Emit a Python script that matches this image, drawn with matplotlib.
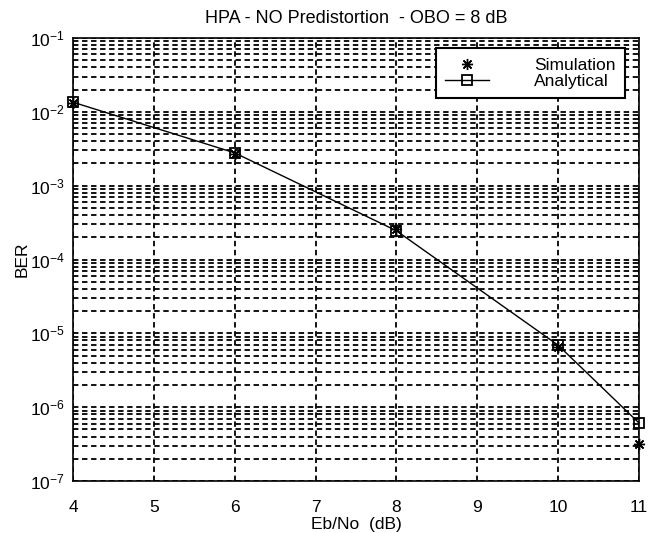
import matplotlib
matplotlib.use("Agg")
import matplotlib.pyplot as plt
from matplotlib.ticker import LogLocator, FixedLocator, NullFormatter

plt.rcParams['font.family'] = ['Liberation Sans', 'DejaVu Sans']
plt.rcParams['mathtext.fontset'] = 'custom'
plt.rcParams['mathtext.rm'] = 'Liberation Sans'
plt.rcParams['mathtext.it'] = 'Liberation Sans'

# Eb/No points (dB) and bit error rates
ebno_sim = [4, 6, 8, 10, 11]
ber_sim = [1.3e-2, 2.7e-3, 2.6e-4, 6.5e-6, 3.2e-7]

ebno_ana = [4, 6, 8, 10, 11]
ber_ana = [1.35e-2, 2.78e-3, 2.45e-4, 6.9e-6, 6.1e-7]

x_ticks = [4, 5, 6, 7, 8, 9, 10, 11]
y_decades = [1e-7, 1e-6, 1e-5, 1e-4, 1e-3, 1e-2, 1e-1]
y_tick_labels = [r'$10^{-7}$', r'$10^{-6}$', r'$10^{-5}$', r'$10^{-4}$',
                 r'$10^{-3}$', r'$10^{-2}$', r'$10^{-1}$']

fig = plt.figure(figsize=(6.51, 5.33), dpi=100)
ax = fig.add_axes([73 / 651, 1 - 481 / 533, 566 / 651, 443 / 533])

ax.set_yscale('log')
ax.set_xlim(4, 11)
ax.set_ylim(1e-7, 1e-1)

ax.xaxis.set_major_locator(FixedLocator(x_ticks))
ax.set_xticklabels([str(t) for t in x_ticks])
ax.yaxis.set_major_locator(FixedLocator(y_decades))
ax.set_yticklabels(y_tick_labels)
ax.yaxis.set_minor_locator(LogLocator(base=10, subs=range(2, 10), numticks=20))
ax.yaxis.set_minor_formatter(NullFormatter())

grid_kw = dict(color='black', linewidth=1.3, linestyle=(0, (3, 2)))
ax.grid(True, which='major', axis='both', **grid_kw)
ax.grid(True, which='minor', axis='y', **grid_kw)
ax.set_axisbelow(True)

ax.tick_params(axis='x', which='both', length=0, pad=14, labelsize=12.5)
ax.tick_params(axis='y', which='both', length=0, pad=6, labelsize=12.5)

for s in ax.spines.values():
    s.set_linewidth(1.2)
    s.set_color('black')

# asterisk-style marker (8 arms) for simulated points
ax.plot(ebno_sim, ber_sim, linestyle='none', marker=(8, 2, 0), color='black',
        markersize=8, markeredgewidth=1.0, label='Simulation',
        clip_on=False, zorder=4)
ax.plot(ebno_ana, ber_ana, color='black', linewidth=1.0, marker='s',
        markerfacecolor='none', markeredgecolor='black', markersize=7,
        markeredgewidth=1.3, label='Analytical', clip_on=False, zorder=3)

ax.set_title('HPA - NO Predistortion  - OBO = 8 dB', fontsize=13, pad=11)

ax.set_ylabel('BER', fontsize=12.5, va='center')
ax.yaxis.set_label_coords(-0.09, 0.5)

fig.text(356 / 651, 1 - 525 / 533, 'Eb/No  (dB)', ha='center', va='center',
         fontsize=12.5)

leg = ax.legend(loc='upper right', bbox_to_anchor=(625 / 651, 1 - 48 / 533),
                bbox_transform=fig.transFigure, borderaxespad=0,
                fontsize=12.5, frameon=True,
                fancybox=False, edgecolor='black', framealpha=1,
                borderpad=0.55, handlelength=2.5, handletextpad=2.6,
                labelspacing=0.05, markerfirst=True)
leg.get_frame().set_linewidth(1.5)
for t in leg.get_texts():
    t.set_ha('left')

fig.savefig('out.png', dpi=100)
